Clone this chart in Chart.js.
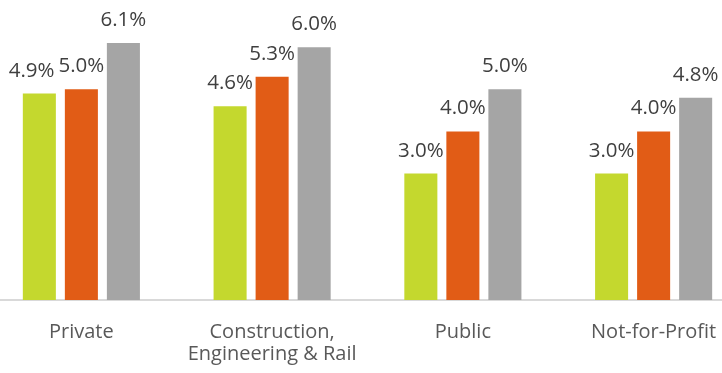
<!DOCTYPE html>
<html>
<head>
<meta charset="utf-8">
<script src="https://cdn.jsdelivr.net/npm/chart.js@4/dist/chart.umd.min.js"></script>
<style>
  html, body { margin: 0; padding: 0; background: #fff; overflow: hidden; }
  #wrap { position: absolute; left: -14px; top: 0; width: 763px; height: 373px; }
</style>
</head>
<body>
<div id="wrap"><canvas id="chart"></canvas></div>
<script>
const categories = ["Private", ["Construction,", "Engineering & Rail"], "Public", "Not-for-Profit"];
const seriesA = [4.9, 4.6, 3.0, 3.0];
const seriesB = [5.0, 5.3, 4.0, 4.0];
const seriesC = [6.1, 6.0, 5.0, 4.8];
const colors = ["#C4D82E", "#E15C16", "#A5A5A5"];
const FONT = "'Open Sans', sans-serif";

// draws value labels above bars, nudging left ones away when they collide
const barLabels = {
  id: "barLabels",
  afterDatasetsDraw(chart) {
    const ctx = chart.ctx;
    ctx.save();
    ctx.font = `20.5px ${FONT}`;
    ctx.fillStyle = "#3F3F3F";
    ctx.textAlign = "center";
    ctx.textBaseline = "alphabetic";
    for (let i = 0; i < categories.length; i++) {
      const items = chart.data.datasets.map((ds, d) => {
        const bar = chart.getDatasetMeta(d).data[i];
        const text = `${ds.data[i].toFixed(1)}%`;
        return { text, x: bar.x, y: bar.y - 17, w: ctx.measureText(text).width };
      });
      for (let k = items.length - 2; k >= 0; k--) {
        const right = items[k + 1];
        const left = items[k];
        const overlap = (left.x + left.w / 2) - (right.x - right.w / 2) + 4;
        if (overlap > 0 && Math.abs(left.y - right.y) < 20) left.x -= overlap;
      }
      items.forEach((it) => ctx.fillText(it.text, it.x, it.y));
    }
    ctx.restore();
  }
};

new Chart(document.getElementById("chart"), {
  type: "bar",
  data: {
    labels: categories,
    datasets: [seriesA, seriesB, seriesC].map((data, i) => ({
      data, backgroundColor: colors[i], borderWidth: 0,
      categoryPercentage: 0.661, barPercentage: 0.786
    }))
  },
  options: {
    responsive: true,
    maintainAspectRatio: false,
    animation: false,
    layout: { padding: { top: 5, left: 0, right: 0, bottom: 0 } },
    plugins: { legend: { display: false }, tooltip: { enabled: false } },
    scales: {
      x: {
        grid: { display: false, drawTicks: false },
        border: { color: "#D9D9D9", width: 2 },
        ticks: { color: "#595959", font: { family: FONT, size: 20, lineHeight: 1.1 }, padding: 21, maxRotation: 0, autoSkip: false },
        afterFit: (scale) => { scale.height = 73; }
      },
      y: { display: false, min: 0, max: 7 }
    }
  },
  plugins: [barLabels]
});
</script>
</body>
</html>
